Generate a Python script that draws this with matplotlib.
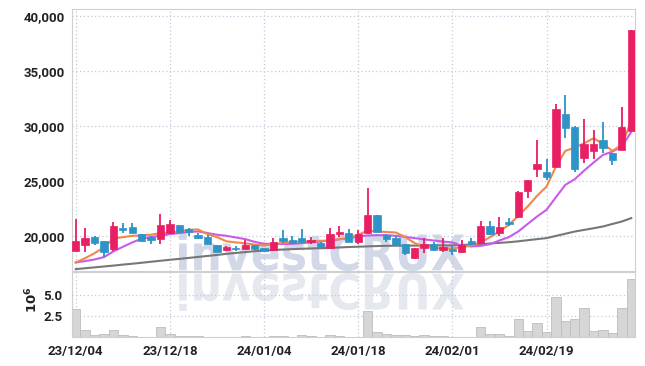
import matplotlib
matplotlib.use('Agg')
import matplotlib.pyplot as plt
import numpy as np
import pandas as pd
from matplotlib.textpath import TextPath
from matplotlib.patches import PathPatch
from matplotlib.font_manager import FontProperties
from matplotlib.transforms import Affine2D

plt.rcParams['font.family'] = ['Roboto', 'DejaVu Sans']
plt.rcParams['font.weight'] = 'bold'

# trading days (KRX holidays removed)
holidays = ['2023-12-25', '2023-12-29', '2024-01-01', '2024-02-09', '2024-02-12', '2024-03-01']
dates = pd.bdate_range('2023-12-04', '2024-03-04')
dates = dates[~dates.isin(pd.to_datetime(holidays))]

opens = [18640, 19180, 19910, 19520, 18760, 20730, 20820, 20150, 19910, 19670,
         20300, 21000, 20580, 20060, 19910, 19180, 18670, 18880, 18820, 19150,
         18880, 18700, 19820, 19640, 19820, 19460, 19390, 18910, 20150, 20300,
         19450, 20240, 21850, 20120, 19820, 19270, 17940, 18850, 19270, 18670,
         18790, 18490, 19520, 19330, 20880, 20300, 21240, 21700, 24120, 26090,
         25820, 26300, 31060, 29910, 27120, 27760, 28730, 27520, 27850, 29580]
highs = [21550, 20700, 19950, 19550, 21300, 21180, 21180, 20170, 19950, 21970,
         21450, 21030, 20700, 20240, 20090, 19200, 19030, 19030, 19610, 19180,
         18900, 19760, 20550, 19940, 20600, 19880, 19400, 20700, 20910, 20610,
         20550, 24390, 21910, 20150, 20000, 19300, 18900, 19790, 19400, 19790,
         19180, 19580, 19790, 21390, 21360, 21670, 21580, 24120, 25120, 28730,
         26970, 31970, 32820, 29950, 30610, 29640, 30330, 27550, 31760, 38730]
lows = [18600, 18520, 19120, 18090, 18580, 20240, 20250, 19470, 19240, 19240,
        20150, 20300, 19940, 19700, 19240, 18500, 18640, 18640, 18800, 18700,
        18600, 18640, 19330, 19330, 19390, 19270, 18900, 18760, 19880, 19400,
        19270, 20200, 20350, 19480, 19030, 18240, 17900, 18420, 18650, 18550,
        18240, 18450, 19180, 19240, 20060, 20000, 20910, 21650, 23420, 25330,
        25090, 26250, 28880, 25850, 26610, 26970, 27520, 26420, 27800, 29550]
closes = [19550, 19760, 19390, 18550, 20910, 20490, 20300, 19490, 19580, 21000,
          21090, 20330, 20330, 19760, 19300, 18520, 18970, 18790, 19180, 18760,
          18640, 19450, 19520, 19390, 19450, 19580, 18940, 20180, 20330, 19450,
          20180, 21850, 20390, 19700, 19180, 18420, 18850, 19240, 18670, 18940,
          18580, 19180, 19270, 20880, 20150, 20760, 21090, 23970, 25090, 26550,
          25390, 31550, 29850, 26090, 28360, 28360, 27970, 26940, 29880, 38730]
# volume in millions
volumes = [3.39, 0.85, 0.28, 0.40, 0.85, 0.28, 0.12, 0.05, 0.05, 1.21,
           0.40, 0.16, 0.08, 0.08, 0.05, 0.04, 0.03, 0.03, 0.08, 0.03,
           0.03, 0.12, 0.12, 0.05, 0.24, 0.10, 0.05, 0.24, 0.12, 0.03,
           0.05, 3.14, 0.60, 0.36, 0.24, 0.24, 0.08, 0.24, 0.08, 0.12,
           0.05, 0.03, 0.03, 1.21, 0.36, 0.36, 0.12, 2.18, 0.73, 1.69,
           0.60, 4.84, 1.93, 2.18, 3.51, 0.73, 0.85, 0.48, 3.51, 7.00]
ma_short = [17580, 17970, 18420, 18950, 19750, 19880, 20000, 20030, 20100, 20240,
            20300, 20400, 20550, 20580, 20150, 19880, 19500, 19400, 19330, 19200,
            19120, 19240, 19350, 19450, 19480, 19515, 19545, 19576, 19700, 19790,
            20090, 20480, 20400, 20350, 20300, 19880, 19330, 19030, 18880, 18850,
            18850, 18970, 19120, 19390, 19880, 20390, 21000, 21800, 22670, 23640,
            24480, 26300, 27730, 28030, 28420, 28880, 28360, 27730, 28270, 30450]
ma_mid = [17580, 17700, 17850, 18060, 18580, 19000, 19400, 19730, 19900, 20000,
          20150, 20250, 20350, 20400, 20250, 20100, 20000, 19850, 19700, 19450,
          19280, 19250, 19260, 19270, 19330, 19400, 19480, 19576, 19680, 19790,
          19940, 20030, 20060, 20060, 20000, 19900, 19790, 19680, 19576, 19480,
          19394, 19121, 19030, 19091, 19242, 19576, 19879, 20394, 21080, 21758,
          22364, 23515, 24636, 25152, 25939, 26667, 27364, 27667, 28121, 29454]
ma_long = [16970, 17050, 17130, 17210, 17290, 17380, 17460, 17550, 17640, 17730,
           17820, 17900, 17990, 18080, 18170, 18260, 18360, 18440, 18520, 18600,
           18670, 18710, 18750, 18790, 18820, 18850, 18880, 18910, 18940, 18980,
           19010, 19040, 19070, 19090, 19100, 19110, 19110, 19120, 19120, 19130,
           19130, 19170, 19200, 19240, 19300, 19360, 19420, 19500, 19600, 19700,
           19790, 19990, 20190, 20390, 20540, 20690, 20850, 21080, 21300, 21610]

up_col = '#e91e63'
down_col = '#2e93c6'
grid_col = '#c5c9da'

x = np.arange(len(dates))
o = np.array(opens)
c = np.array(closes)
cols = [up_col if cc >= oo else down_col for oo, cc in zip(o, c)]

fig = plt.figure(figsize=(6.45, 3.66), dpi=100)
ax = fig.add_axes([0.1116, 0.2596, 0.8729, 0.7158])
axv = fig.add_axes([0.1116, 0.0792, 0.8729, 0.1776], sharex=ax)
for a in (ax, axv):
    a.set_facecolor('none')
    for s in a.spines.values():
        s.set_color('#cfcfcf')
    a.grid(True, linestyle=(0, (1, 2)), color=grid_col, linewidth=0.9)
    a.set_axisbelow(True)
    a.tick_params(length=0, labelsize=9.5, colors='#222222')

# watermark + reflection
tp = TextPath((0, 0), 'investCRUX', size=50,
              prop=FontProperties(family='DejaVu Sans', weight='bold'))
bb = tp.get_extents()
sx = (464 - 179) / bb.width
sy = (133 - 95) / bb.height
t1 = Affine2D().translate(-bb.x0, -bb.y0).scale(sx, sy).translate(179, 95)
t2 = Affine2D().translate(-bb.x0, -bb.y0).scale(sx, -sy).translate(179, 93)
fig.add_artist(PathPatch(tp, transform=t1, facecolor='#d2d8e8', edgecolor='none', zorder=-1))
fig.add_artist(PathPatch(tp, transform=t2, facecolor='#e6e8f0', edgecolor='none', zorder=-1))

# candles
ax.vlines(x, lows, highs, colors=cols, linewidth=1.3, zorder=3)
body = np.maximum(np.abs(c - o), 40)
ax.bar(x, body, bottom=np.minimum(o, c), width=0.78, color=cols,
       edgecolor=cols, linewidth=0.5, zorder=4)

ax.plot(x, ma_long, color='#777777', linewidth=1.5, zorder=2)
ax.plot(x, ma_mid, color='#c95be8', linewidth=1.5, zorder=2)
ax.plot(x, ma_short, color='#f0884a', linewidth=1.5, zorder=2)

ax.set_xlim(-0.4, len(x) - 0.6)
ax.set_ylim(16800, 40640)
ax.set_yticks([20000, 25000, 30000, 35000, 40000])
ax.set_yticklabels(['{:,}'.format(v) for v in [20000, 25000, 30000, 35000, 40000]])
ax.tick_params(axis='x', labelbottom=False)
ax.tick_params(axis='y', pad=5)

# volume
axv.bar(x, volumes, width=1.0, color='#d6d6d6', edgecolor='#bdbdbd', linewidth=0.6, zorder=2)
axv.set_ylim(0, 7.8)
axv.set_yticks([2.5, 5.0])
axv.set_yticklabels(['2.5', '5.0'])
axv.set_xticks(x[::10])
axv.set_xticklabels([d.strftime('%y/%m/%d') for d in dates[::10]])
axv.tick_params(axis='x', pad=6)
axv.tick_params(axis='y', pad=7)
fig.text(32 / 645, 1 - 300 / 366, r'$10^6$', rotation=90, ha='center', va='center',
         fontsize=9.5, fontweight='normal', color='#222222')

fig.savefig('out.png', dpi=100)
